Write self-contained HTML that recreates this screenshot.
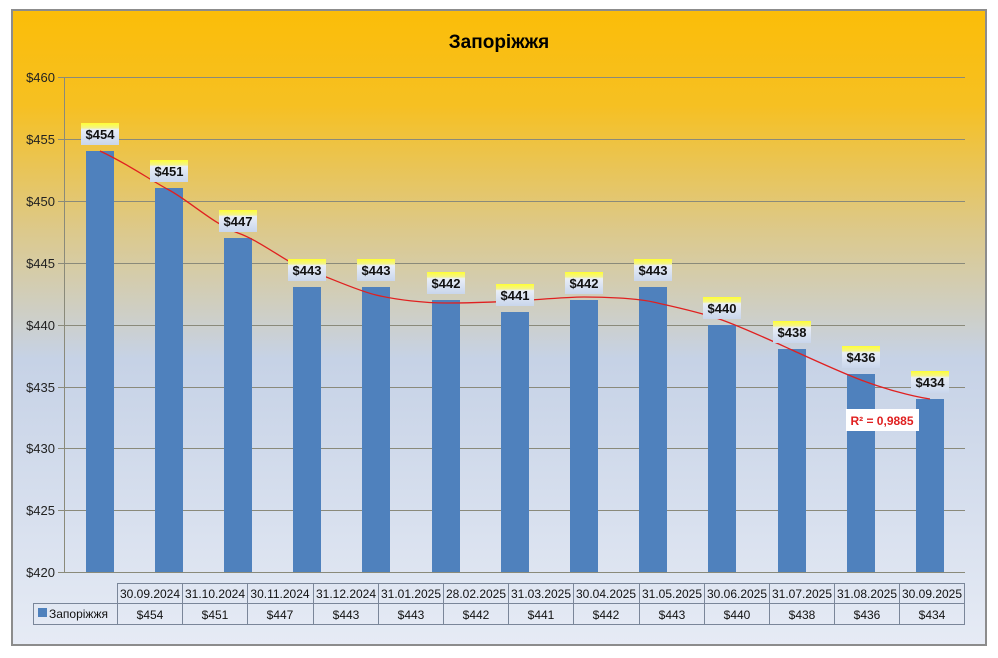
<!DOCTYPE html>
<html><head><meta charset="utf-8"><style>
body{margin:0;background:#fff;width:998px;height:653px;overflow:hidden;font-family:"Liberation Sans","DejaVu Sans",sans-serif}
</style></head><body>
<svg width="998" height="653" xmlns="http://www.w3.org/2000/svg" font-family="Liberation Sans, DejaVu Sans, sans-serif">
<defs>
<linearGradient id="bg" x1="0" y1="0" x2="0" y2="1">
<stop offset="0" stop-color="#fbbd08"/>
<stop offset="0.15" stop-color="#f6c022"/>
<stop offset="0.35" stop-color="#dcc98c"/>
<stop offset="0.55" stop-color="#c6d2e6"/>
<stop offset="1" stop-color="#e6ebf5"/>
</linearGradient>
<linearGradient id="lb" x1="0" y1="0" x2="0" y2="1">
<stop offset="0" stop-color="#ffff33"/>
<stop offset="0.22" stop-color="#f4f48a"/>
<stop offset="0.3" stop-color="#e9eef7"/>
<stop offset="1" stop-color="#c9d6ec"/>
</linearGradient>
</defs>
<rect x="12" y="10" width="974" height="635" fill="url(#bg)" stroke="#8c8c8c" stroke-width="2"/>
<text x="499" y="48" text-anchor="middle" font-size="19" font-weight="bold" fill="#000">Запоріжжя</text>
<g stroke="#8a8a7a" stroke-width="1">
<line x1="58" y1="77.5" x2="965" y2="77.5"/>
<line x1="58" y1="139.5" x2="965" y2="139.5"/>
<line x1="58" y1="201.5" x2="965" y2="201.5"/>
<line x1="58" y1="263.5" x2="965" y2="263.5"/>
<line x1="58" y1="325.5" x2="965" y2="325.5"/>
<line x1="58" y1="387.5" x2="965" y2="387.5"/>
<line x1="58" y1="448.5" x2="965" y2="448.5"/>
<line x1="58" y1="510.5" x2="965" y2="510.5"/>
<line x1="58" y1="572.5" x2="965" y2="572.5"/>
<line x1="64.5" y1="77" x2="64.5" y2="572"/>
</g>
<g font-size="13" fill="#222" text-anchor="end">
<text x="55" y="82">$460</text><text x="55" y="144">$455</text><text x="55" y="206">$450</text>
<text x="55" y="268">$445</text><text x="55" y="330">$440</text><text x="55" y="392">$435</text>
<text x="55" y="453">$430</text><text x="55" y="515">$425</text><text x="55" y="577">$420</text>
</g>
<g fill="#4f81bd">
<rect x="86" y="151" width="28" height="421"/>
<rect x="155" y="188" width="28" height="384"/>
<rect x="224" y="238" width="28" height="334"/>
<rect x="293" y="287" width="28" height="285"/>
<rect x="362" y="287" width="28" height="285"/>
<rect x="432" y="300" width="28" height="272"/>
<rect x="501" y="312" width="28" height="260"/>
<rect x="570" y="300" width="28" height="272"/>
<rect x="639" y="287" width="28" height="285"/>
<rect x="708" y="325" width="28" height="247"/>
<rect x="778" y="349" width="28" height="223"/>
<rect x="847" y="374" width="28" height="198"/>
<rect x="916" y="399" width="28" height="173"/>
</g>
<path d="M100,151 C130,165 150,180 169,190 S215,225 238,233 S290,265 307,270 S355,290 376,295 S425,303 446,303 S495,302 515,301 S565,297 584,297 S635,298 653,302 S700,312 722,320 S770,340 792,350 S840,372 861,380 S910,396 930,399" fill="none" stroke="#e02020" stroke-width="1.3"/>
<g font-size="13" font-weight="bold" fill="#111" text-anchor="middle">
<g transform="translate(100,145)"><rect x="-19" y="-22" width="38" height="22" fill="url(#lb)"/><text y="-6">$454</text></g>
<g transform="translate(169,182)"><rect x="-19" y="-22" width="38" height="22" fill="url(#lb)"/><text y="-6">$451</text></g>
<g transform="translate(238,232)"><rect x="-19" y="-22" width="38" height="22" fill="url(#lb)"/><text y="-6">$447</text></g>
<g transform="translate(307,281)"><rect x="-19" y="-22" width="38" height="22" fill="url(#lb)"/><text y="-6">$443</text></g>
<g transform="translate(376,281)"><rect x="-19" y="-22" width="38" height="22" fill="url(#lb)"/><text y="-6">$443</text></g>
<g transform="translate(446,294)"><rect x="-19" y="-22" width="38" height="22" fill="url(#lb)"/><text y="-6">$442</text></g>
<g transform="translate(515,306)"><rect x="-19" y="-22" width="38" height="22" fill="url(#lb)"/><text y="-6">$441</text></g>
<g transform="translate(584,294)"><rect x="-19" y="-22" width="38" height="22" fill="url(#lb)"/><text y="-6">$442</text></g>
<g transform="translate(653,281)"><rect x="-19" y="-22" width="38" height="22" fill="url(#lb)"/><text y="-6">$443</text></g>
<g transform="translate(722,319)"><rect x="-19" y="-22" width="38" height="22" fill="url(#lb)"/><text y="-6">$440</text></g>
<g transform="translate(792,343)"><rect x="-19" y="-22" width="38" height="22" fill="url(#lb)"/><text y="-6">$438</text></g>
<g transform="translate(861,368)"><rect x="-19" y="-22" width="38" height="22" fill="url(#lb)"/><text y="-6">$436</text></g>
<g transform="translate(930,393)"><rect x="-19" y="-22" width="38" height="22" fill="url(#lb)"/><text y="-6">$434</text></g>
</g>
<rect x="846" y="409" width="73" height="22" fill="#fff"/>
<text x="882" y="425" text-anchor="middle" font-size="12" font-weight="bold" fill="#e02020">R² = 0,9885</text>
<g stroke="#7a8699" stroke-width="1" fill="none">
<line x1="117.5" y1="583.5" x2="965" y2="583.5"/>
<line x1="33" y1="603.5" x2="965" y2="603.5"/>
<line x1="33" y1="624.5" x2="965" y2="624.5"/>
<line x1="33.5" y1="603" x2="33.5" y2="625"/>
<line x1="117.5" y1="583" x2="117.5" y2="625"/><line x1="182.5" y1="583" x2="182.5" y2="625"/><line x1="247.5" y1="583" x2="247.5" y2="625"/><line x1="313.5" y1="583" x2="313.5" y2="625"/><line x1="378.5" y1="583" x2="378.5" y2="625"/><line x1="443.5" y1="583" x2="443.5" y2="625"/><line x1="508.5" y1="583" x2="508.5" y2="625"/><line x1="573.5" y1="583" x2="573.5" y2="625"/><line x1="639.5" y1="583" x2="639.5" y2="625"/><line x1="704.5" y1="583" x2="704.5" y2="625"/><line x1="769.5" y1="583" x2="769.5" y2="625"/><line x1="834.5" y1="583" x2="834.5" y2="625"/><line x1="899.5" y1="583" x2="899.5" y2="625"/><line x1="964.5" y1="583" x2="964.5" y2="625"/>
</g>
<g font-size="12" fill="#111" text-anchor="middle">
<text x="150" y="598">30.09.2024</text><text x="215" y="598">31.10.2024</text><text x="280" y="598">30.11.2024</text><text x="346" y="598">31.12.2024</text><text x="411" y="598">31.01.2025</text><text x="476" y="598">28.02.2025</text><text x="541" y="598">31.03.2025</text><text x="606" y="598">30.04.2025</text><text x="672" y="598">31.05.2025</text><text x="737" y="598">30.06.2025</text><text x="802" y="598">31.07.2025</text><text x="867" y="598">31.08.2025</text><text x="932" y="598">30.09.2025</text>
<text x="150" y="619">$454</text><text x="215" y="619">$451</text><text x="280" y="619">$447</text><text x="346" y="619">$443</text><text x="411" y="619">$443</text><text x="476" y="619">$442</text><text x="541" y="619">$441</text><text x="606" y="619">$442</text><text x="672" y="619">$443</text><text x="737" y="619">$440</text><text x="802" y="619">$438</text><text x="867" y="619">$436</text><text x="932" y="619">$434</text>
</g>
<rect x="38" y="608" width="9" height="9" fill="#4f81bd"/>
<text x="49" y="618" font-size="12" fill="#111">Запоріжжя</text>
</svg>
</body></html>
